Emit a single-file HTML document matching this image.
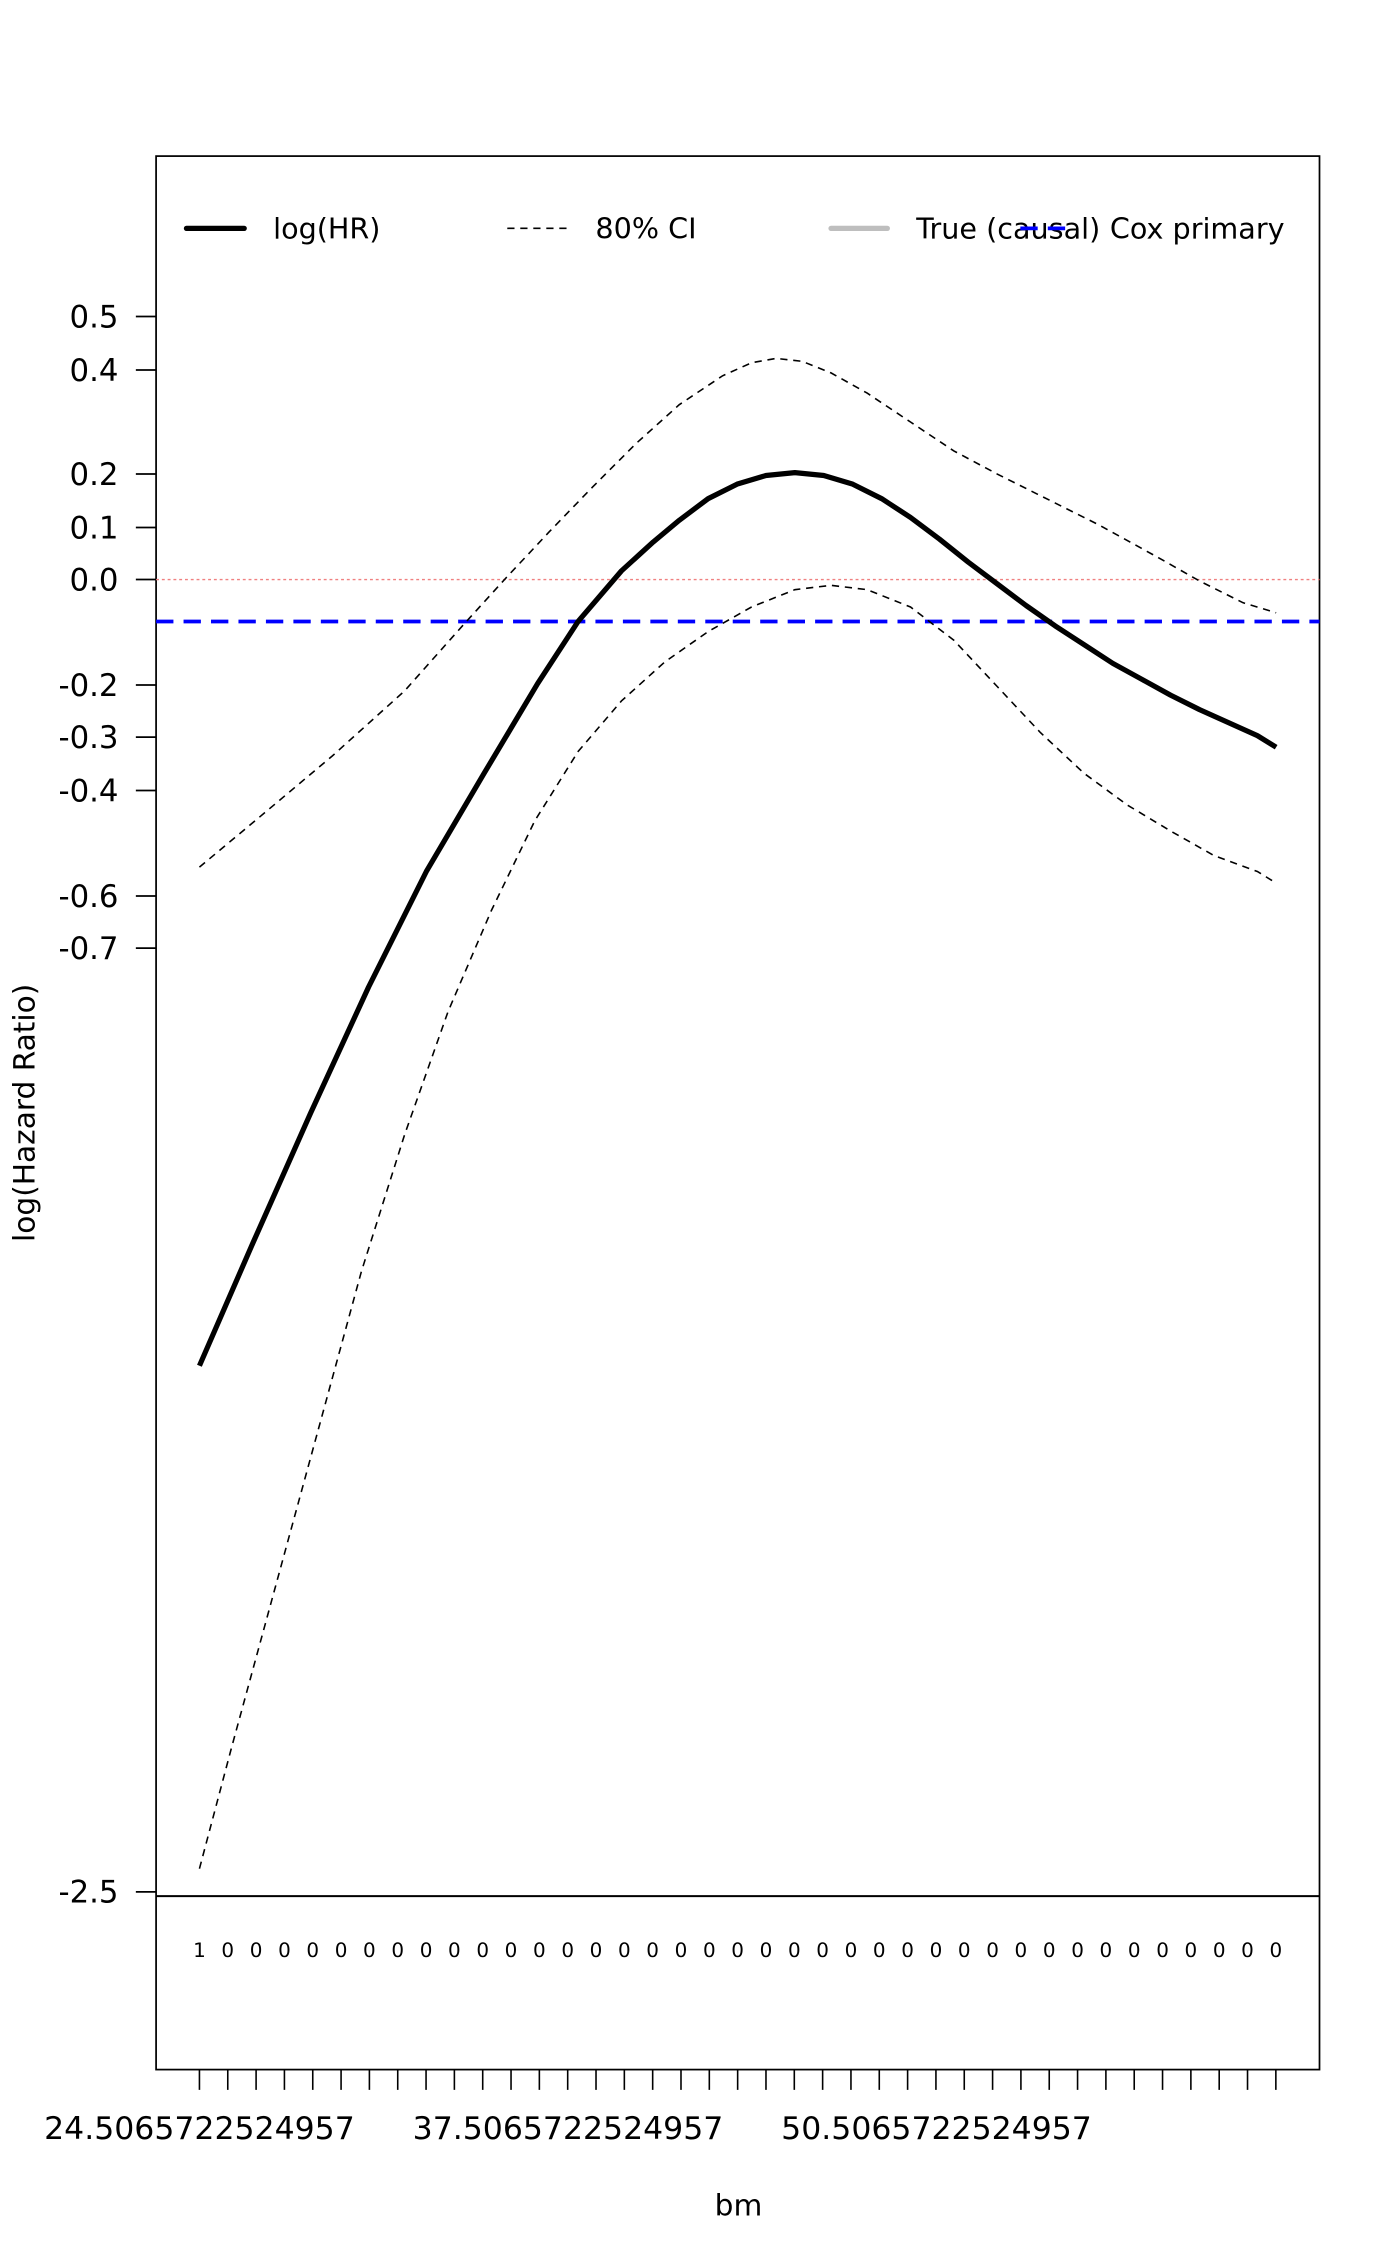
<!DOCTYPE html>
<html><head><meta charset="utf-8"><style>html,body{margin:0;padding:0;background:#fff}svg{display:block}</style></head>
<body>
<svg width="1400" height="2266" viewBox="0 0 968.7 1567.9" xmlns="http://www.w3.org/2000/svg" font-family="DejaVu Sans, Liberation Sans, sans-serif">
<rect x="0" y="0" width="970" height="1570" fill="#fff"/>
<rect x="108" y="108" width="805" height="1324" fill="none" stroke="#000" stroke-width="1.2"/>
<line x1="108" y1="1312" x2="913" y2="1312" stroke="#000" stroke-width="1.4"/>
<g stroke="#000" stroke-width="1.2">
<line x1="94" y1="219" x2="108" y2="219"/><line x1="94" y1="256" x2="108" y2="256"/>
<line x1="94" y1="328" x2="108" y2="328"/><line x1="94" y1="365" x2="108" y2="365"/>
<line x1="94" y1="401" x2="108" y2="401"/><line x1="94" y1="474" x2="108" y2="474"/>
<line x1="94" y1="510" x2="108" y2="510"/><line x1="94" y1="547" x2="108" y2="547"/>
<line x1="94" y1="620" x2="108" y2="620"/><line x1="94" y1="656" x2="108" y2="656"/>
<line x1="94" y1="1309" x2="108" y2="1309"/>
</g>
<g font-size="21.3" text-anchor="end" fill="#000">
<text x="82" y="226.5">0.5</text><text x="82" y="263.5">0.4</text><text x="82" y="335.5">0.2</text>
<text x="82" y="372.5">0.1</text><text x="82" y="408.5">0.0</text><text x="82" y="481.5">-0.2</text>
<text x="82" y="517.5">-0.3</text><text x="82" y="554.5">-0.4</text><text x="82" y="627.5">-0.6</text>
<text x="82" y="663.5">-0.7</text><text x="82" y="1316.5">-2.5</text>
</g>
<text transform="translate(24,770) rotate(-90)" font-size="20.5" text-anchor="middle">log(Hazard Ratio)</text>
<line x1="108" y1="401" x2="913" y2="401" stroke="#f08080" stroke-width="1" stroke-dasharray="2,2"/>
<line x1="108" y1="430" x2="913" y2="430" stroke="#0000ff" stroke-width="2.6" stroke-dasharray="12,7"/>
<polyline fill="none" stroke="#000" stroke-width="3.6" stroke-linejoin="round" points="138,945 175,860 215,770 255,683 295,603 335,535 372,473 400,430 430,395 452,375 470,360 490,345 510,335 530,329 550,327 570,329 590,335 610,345 630,358 650,373 670,389 690,404 710,419 730,433 750,446 770,459 790,470 810,481 830,491 850,500 870,509 883,517"/>
<polyline fill="none" stroke="#000" stroke-width="1.1" stroke-dasharray="5,4" points="138,600 180,565 230,523 280,478 320,433 350,400 380,368 410,337 440,307 470,280 500,260 520,251 537,248 555,250 575,258 600,272 630,292 660,312 690,328 720,343 760,363 800,385 830,402 860,417 883,424"/>
<polyline fill="none" stroke="#000" stroke-width="1.1" stroke-dasharray="5,4" points="138,1293 160,1210 190,1100 220,990 250,880 280,785 310,700 340,630 370,568 400,520 430,485 460,458 490,437 520,420 550,408 575,405 600,408 630,420 660,443 690,475 720,507 750,535 780,557 810,575 840,592 870,603 883,611"/>
<line x1="129" y1="158" x2="169" y2="158" stroke="#000" stroke-width="3.6" stroke-linecap="round"/>
<text x="189" y="165" font-size="19.8">log(HR)</text>
<line x1="351" y1="158" x2="392" y2="158" stroke="#000" stroke-width="1.1" stroke-dasharray="5,4"/>
<text x="412" y="165" font-size="19.8">80% CI</text>
<line x1="575" y1="158" x2="614" y2="158" stroke="#bebebe" stroke-width="3.6" stroke-linecap="round"/>
<text x="634" y="165" font-size="19.8">True (causal)</text>
<line x1="706" y1="158" x2="742" y2="158" stroke="#0000ff" stroke-width="2.6" stroke-dasharray="12,7"/>
<text x="768" y="165" font-size="19.8">Cox primary</text>
<g font-size="13.8" text-anchor="middle">
<text x="138" y="1354">1</text>
<text x="157.6" y="1354">0</text><text x="177.2" y="1354">0</text><text x="196.8" y="1354">0</text><text x="216.4" y="1354">0</text><text x="236" y="1354">0</text><text x="255.6" y="1354">0</text><text x="275.2" y="1354">0</text><text x="294.8" y="1354">0</text><text x="314.4" y="1354">0</text><text x="334" y="1354">0</text><text x="353.6" y="1354">0</text><text x="373.2" y="1354">0</text><text x="392.8" y="1354">0</text><text x="412.4" y="1354">0</text><text x="432" y="1354">0</text><text x="451.6" y="1354">0</text><text x="471.2" y="1354">0</text><text x="490.8" y="1354">0</text><text x="510.4" y="1354">0</text><text x="530" y="1354">0</text><text x="549.6" y="1354">0</text><text x="569.2" y="1354">0</text><text x="588.8" y="1354">0</text><text x="608.4" y="1354">0</text><text x="628" y="1354">0</text><text x="647.6" y="1354">0</text><text x="667.2" y="1354">0</text><text x="686.8" y="1354">0</text><text x="706.4" y="1354">0</text><text x="726" y="1354">0</text><text x="745.6" y="1354">0</text><text x="765.2" y="1354">0</text><text x="784.8" y="1354">0</text><text x="804.4" y="1354">0</text><text x="824" y="1354">0</text><text x="843.6" y="1354">0</text><text x="863.2" y="1354">0</text><text x="882.8" y="1354">0</text>
</g>
<g stroke="#000" stroke-width="1.1">
<path d="M138,1432v14M157.6,1432v14M177.2,1432v14M196.8,1432v14M216.4,1432v14M236,1432v14M255.6,1432v14M275.2,1432v14M294.8,1432v14M314.4,1432v14M334,1432v14M353.6,1432v14M373.2,1432v14M392.8,1432v14M412.4,1432v14M432,1432v14M451.6,1432v14M471.2,1432v14M490.8,1432v14M510.4,1432v14M530,1432v14M549.6,1432v14M569.2,1432v14M588.8,1432v14M608.4,1432v14M628,1432v14M647.6,1432v14M667.2,1432v14M686.8,1432v14M706.4,1432v14M726,1432v14M745.6,1432v14M765.2,1432v14M784.8,1432v14M804.4,1432v14M824,1432v14M843.6,1432v14M863.2,1432v14M882.8,1432v14"/>
</g>
<g font-size="21.8" text-anchor="middle">
<text x="138" y="1480">24.5065722524957</text>
<text x="393" y="1480">37.5065722524957</text>
<text x="648" y="1480">50.5065722524957</text>
</g>
<text x="511" y="1533" font-size="20.5" text-anchor="middle">bm</text>
</svg>
</body></html>
